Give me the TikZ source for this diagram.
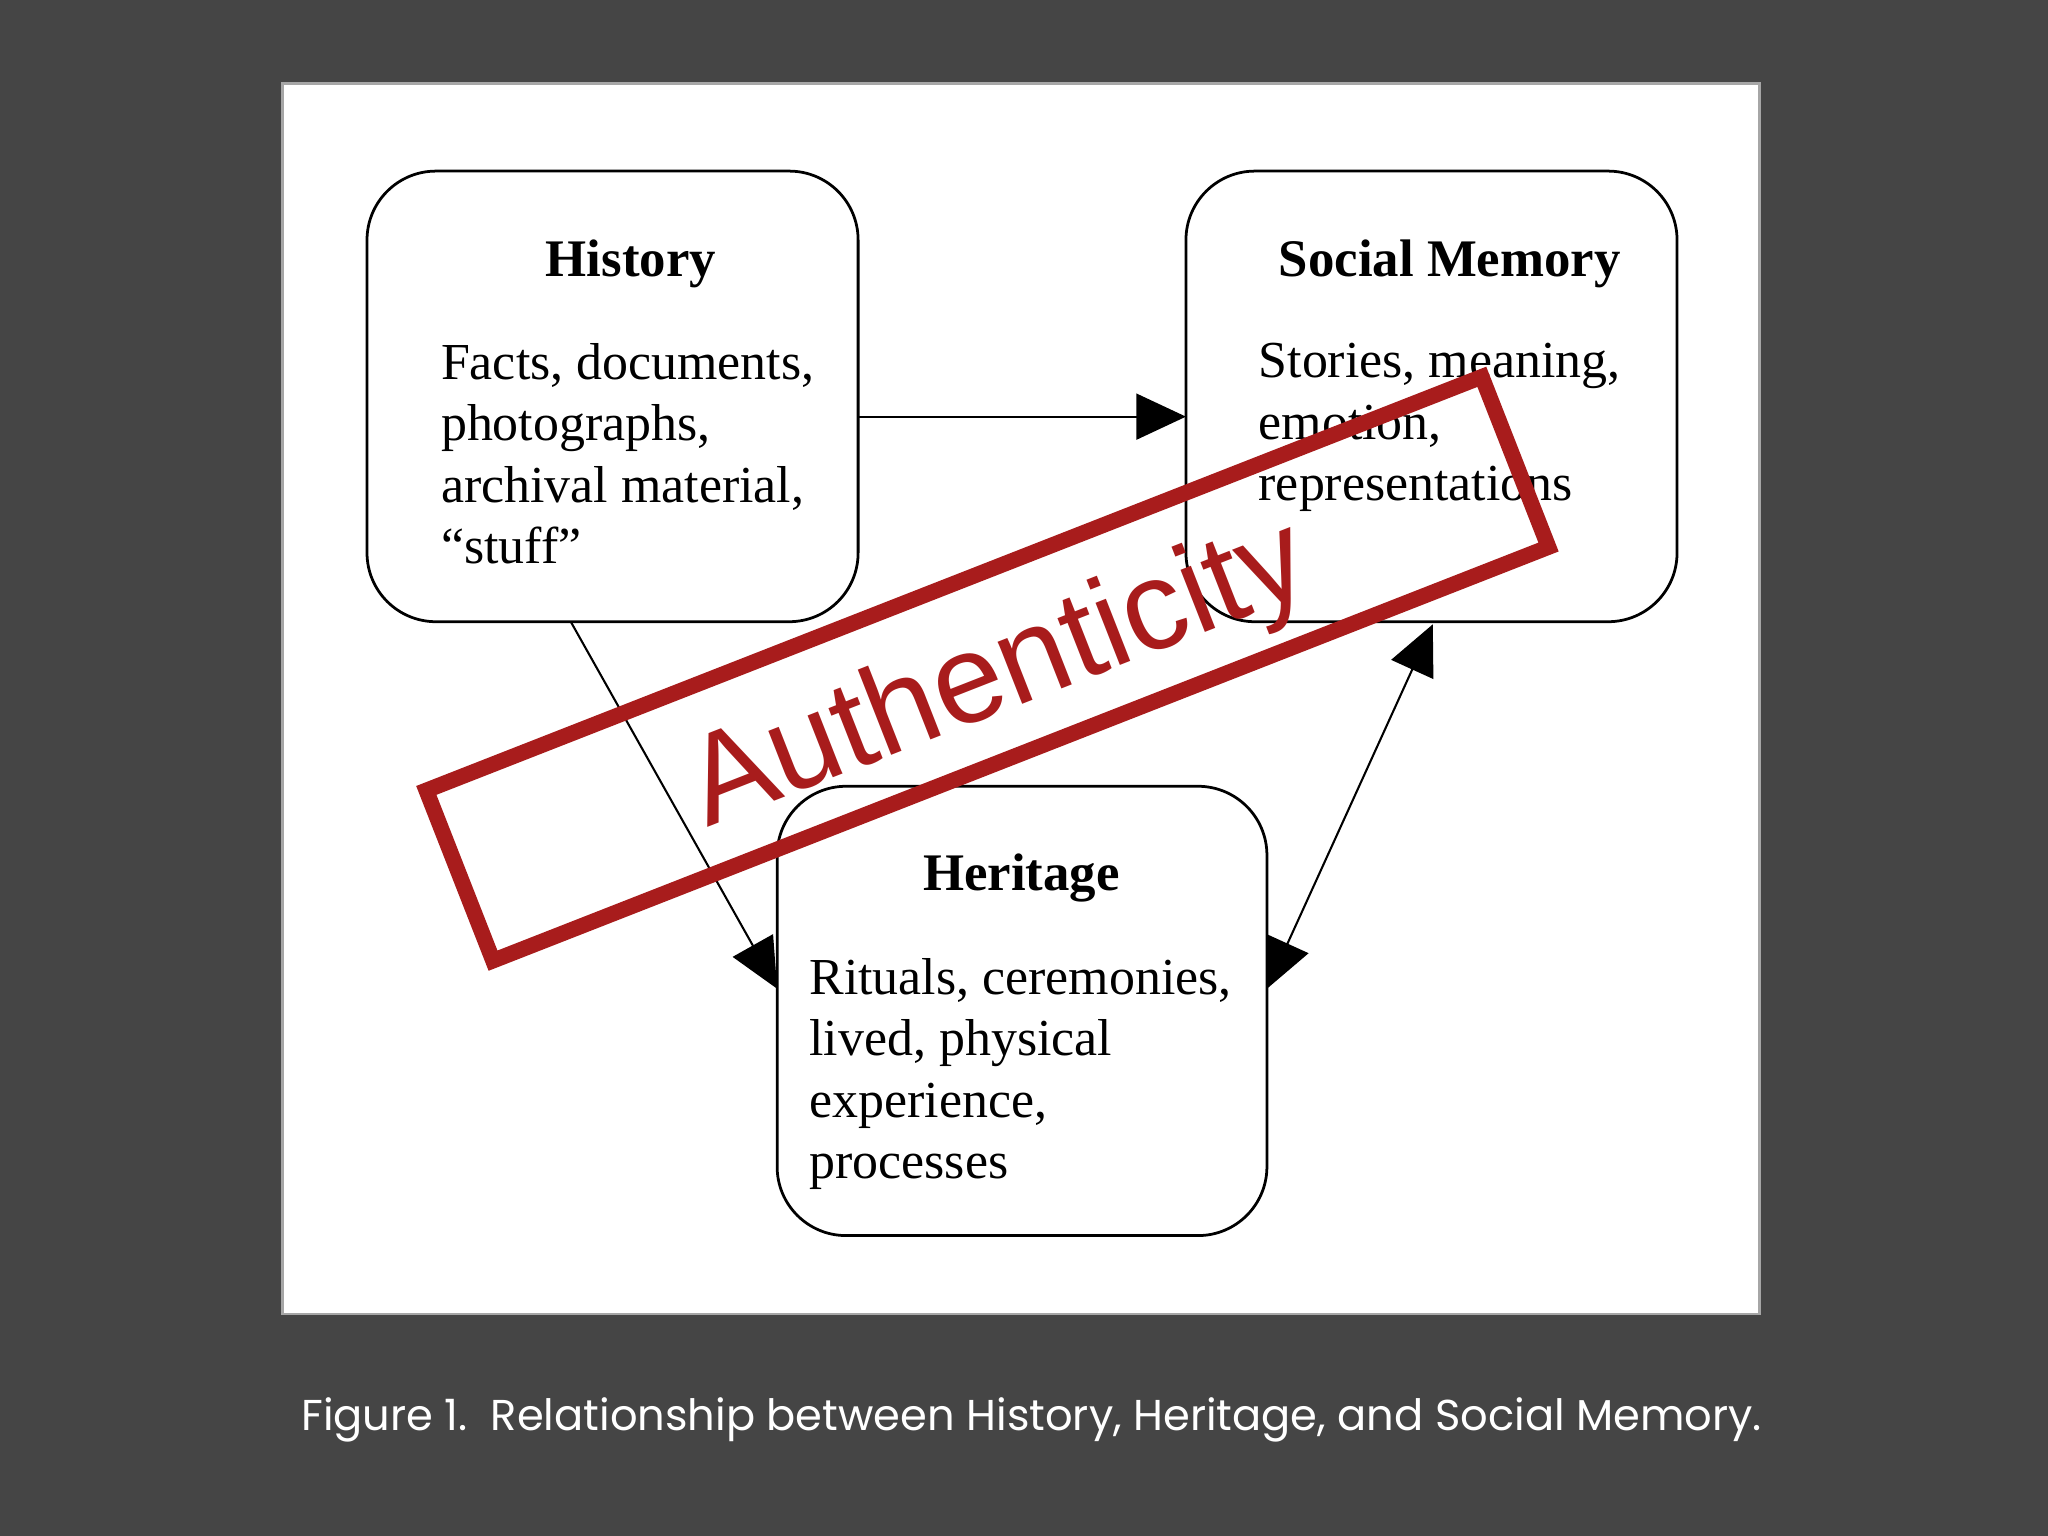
\documentclass[tikz,border=0pt]{standalone}
\usepackage{fontspec}
\setmainfont{Liberation Serif}
\newfontfamily\capfont{Poppins}
\newfontfamily\stampfont{Liberation Sans}
\usetikzlibrary{arrows.meta}
\definecolor{bgc}{HTML}{454545}
\definecolor{stamp}{HTML}{A81C1C}
\begin{document}
\begin{tikzpicture}[x=0.01cm,y=-0.01cm,
  boxst/.style={draw=black,line width=0.6pt,rounded corners=15pt},
  ttl/.style={font=\fontsize{11.5}{13}\selectfont\bfseries,anchor=base},
  body/.style={font=\fontsize{11.3}{13.4}\selectfont,align=left,anchor=north west,inner sep=0pt},
  conn/.style={line width=0.45pt,-{Triangle[length=10.8pt,width=10pt]}},
  dconn/.style={line width=0.45pt,{Triangle[length=10.8pt,width=10pt]}-{Triangle[length=10.8pt,width=10pt]}}]
\fill[bgc] (0,0) rectangle (1568,1176);
\useasboundingbox (0,0) rectangle (1568,1176);
\fill[white,draw=gray!70,line width=0.6pt] (216,64) rectangle (1347,1006);
\draw[boxst] (281,131) rectangle (657,476);
\draw[boxst] (908,131) rectangle (1284,476);
\draw[boxst] (595,602) rectangle (970,946);
\node[ttl] (ht) at (483,212) {History};
\node[body] (hb) at (337,262) {Facts, documents,\\photographs,\\archival material,\\``stuff''};
\node[ttl] (st) at (1110,212) {Social Memory};
\node[body] (sb) at (963,262) {Stories, meaning,\\emotion,\\representations};
\node[ttl] (et) at (782,682) {Heritage};
\node[body] (eb) at (619,733) {Rituals, ceremonies,\\lived, physical\\experience,\\processes};
\coordinate (h1) at (657,319); \coordinate (s1) at (908,319);
\coordinate (h2) at (437,476); \coordinate (e1) at (595,757);
\coordinate (e2) at (970,757); \coordinate (s2) at (1097,478);
\draw[conn] (h1) -- (s1);
\draw[conn] (h2) -- (e1);
\draw[dconn] (e2) -- (s2);
\begin{scope}[shift={(756,512)},rotate=21.4]
\draw[stamp,line width=3.4pt] (-434,-70) rectangle (434,70);
\node[stamp,font=\stampfont\fontsize{27.5}{30}\selectfont,inner sep=0pt,rotate=21.4] (au) at (6,10) {Authenticity};
\end{scope}
\node[white,font=\capfont\fontsize{9.4}{11}\selectfont,anchor=base west,inner sep=0pt] (cap) at (230,1095) {Figure 1.\ \ Relationship between History, Heritage, and Social Memory.};
\end{tikzpicture}
\end{document}
